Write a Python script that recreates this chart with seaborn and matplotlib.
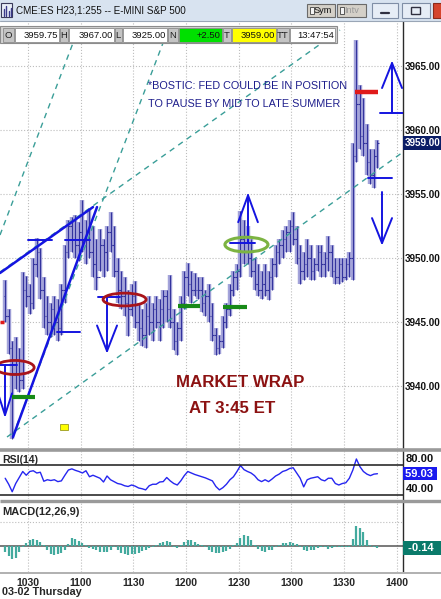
import numpy as np
import pandas as pd
import matplotlib.pyplot as plt
import matplotlib.transforms as mtransforms
from matplotlib.patches import Ellipse, Rectangle
from matplotlib import font_manager
import seaborn as sns

sns.set_theme(style='white')
plt.rcParams['font.family'] = ['Liberation Sans', 'DejaVu Sans']

# ---- data: 2-minute bars, x = minutes after 10:00 ----
bar_start = 17
bar_step = 2

highs = [3948.3, 3946.0, 3943.5, 3943.8, 3943.0, 3948.9, 3948.6, 3948.0, 3950.0, 3951.6,
         3950.8, 3948.5, 3947.0, 3946.5, 3947.0, 3946.8, 3948.0, 3951.0, 3953.0, 3953.2,
         3953.4, 3952.8, 3954.5, 3953.0, 3953.8, 3952.5, 3951.5, 3952.3, 3951.5, 3952.5,
         3953.6, 3952.5, 3950.0, 3949.0, 3948.5, 3947.5, 3948.0, 3948.2, 3946.5, 3946.0,
         3946.5, 3947.0, 3946.5, 3947.0, 3946.8, 3947.5, 3947.5, 3948.7, 3946.0, 3945.0,
         3947.0, 3949.0, 3949.6, 3949.0, 3948.8, 3948.5, 3948.5, 3947.5, 3948.0, 3946.5,
         3944.5, 3944.0, 3945.5, 3946.5, 3948.0, 3949.0, 3949.5, 3953.7, 3953.0, 3952.5,
         3951.5, 3950.0, 3949.5, 3949.0, 3949.5, 3949.0, 3950.0, 3951.0, 3951.5, 3952.2,
         3952.5, 3953.0, 3953.6, 3952.5, 3951.0, 3950.5, 3951.5, 3951.0, 3950.0, 3951.0,
         3951.0, 3950.5, 3951.7, 3951.0, 3950.0, 3950.0, 3950.0, 3950.0, 3950.5, 3959.0,
         3967.0, 3963.5, 3962.5, 3960.5, 3958.5, 3958.5, 3959.2]
lows = [3945.0, 3942.5, 3935.9, 3939.8, 3939.5, 3939.8, 3946.2, 3945.6, 3946.0, 3948.5,
        3946.8, 3944.5, 3944.0, 3943.8, 3944.0, 3943.5, 3944.0, 3946.5, 3950.0, 3950.5,
        3950.0, 3949.8, 3950.5, 3949.5, 3950.0, 3948.5, 3947.5, 3949.0, 3948.5, 3949.0,
        3950.5, 3948.5, 3946.5, 3946.0, 3945.5, 3943.9, 3945.5, 3944.5, 3943.5, 3943.1,
        3943.0, 3944.0, 3943.5, 3944.5, 3943.5, 3944.5, 3945.0, 3944.5, 3942.8, 3942.4,
        3943.5, 3946.0, 3947.0, 3946.5, 3947.0, 3946.8, 3945.8, 3945.5, 3945.0, 3943.5,
        3942.4, 3942.5, 3943.0, 3944.5, 3945.5, 3947.0, 3947.5, 3948.5, 3949.5, 3949.5,
        3948.5, 3947.5, 3947.0, 3946.8, 3947.0, 3946.7, 3947.5, 3948.5, 3949.5, 3950.0,
        3950.5, 3950.5, 3951.0, 3949.5, 3948.0, 3948.3, 3948.5, 3948.3, 3948.3, 3949.0,
        3948.5, 3948.5, 3949.0, 3948.5, 3948.0, 3948.0, 3948.1, 3948.3, 3948.5, 3948.3,
        3957.5, 3958.5, 3958.0, 3956.5, 3955.8, 3955.5, 3957.0]
closes = [3945.5, 3943.0, 3941.0, 3942.0, 3940.5, 3947.5, 3947.0, 3946.5, 3949.5, 3950.5,
          3947.5, 3945.5, 3945.0, 3946.0, 3945.0, 3944.5, 3947.5, 3950.5, 3952.5, 3951.5,
          3951.0, 3952.0, 3951.5, 3952.0, 3950.5, 3949.5, 3948.5, 3951.0, 3950.5, 3952.0,
          3951.0, 3949.0, 3947.5, 3947.0, 3946.5, 3946.0, 3947.0, 3945.0, 3944.5, 3944.0,
          3945.5, 3945.0, 3946.0, 3945.0, 3946.0, 3947.0, 3946.0, 3945.0, 3943.5, 3944.5,
          3946.5, 3948.5, 3948.0, 3947.5, 3947.5, 3947.5, 3946.5, 3947.0, 3945.5, 3944.0,
          3943.0, 3943.5, 3945.0, 3946.0, 3947.5, 3948.5, 3949.0, 3951.5, 3950.5, 3950.0,
          3949.0, 3948.0, 3947.5, 3948.0, 3947.5, 3948.5, 3949.5, 3950.5, 3951.0, 3951.5,
          3952.0, 3952.5, 3951.5, 3950.0, 3949.0, 3949.5, 3950.0, 3949.0, 3949.5, 3950.5,
          3949.5, 3950.0, 3950.5, 3949.0, 3948.5, 3949.5, 3948.5, 3949.5, 3950.0, 3958.0,
          3962.0, 3959.5, 3959.0, 3957.5, 3956.5, 3958.0, 3959.0]
first_open = 3947.0

rsi_values = [53, 45, 35, 46, 54, 62, 57, 62, 63, 60,
              61, 49, 51, 50, 51, 48.5, 49.5, 57, 64, 65.5,
              63.5, 62, 60, 63, 55, 57, 55, 53, 48, 56,
              51, 48.5, 46, 45, 43, 42, 44, 42.5, 40, 39,
              37.5, 43, 45, 45, 48, 48.5, 54, 49.5, 46, 44,
              49.5, 56.5, 62, 60, 58, 56.5, 55, 53.5, 51.5, 49.5,
              42, 37.5, 40.5, 45, 51, 55, 62, 70, 64.5, 62,
              60, 56.5, 51, 48.5, 51, 48.5, 52, 56, 58.5, 62,
              63.5, 66, 67, 60, 53, 41.5, 51, 53, 54, 55,
              51, 49.5, 53, 53, 46, 44, 46, 47, 53, 64,
              78.7, 68.5, 62, 58.5, 56.5, 58.5, 59.03]

macd_hist = [-0.45, -0.7, -0.95, -0.85, -0.45, -0.1, 0.25, 0.4, 0.48, 0.45,
             0.3, 0.05, -0.3, -0.55, -0.62, -0.6, -0.5, -0.25, 0.15, 0.55,
             0.5, 0.35, 0.2, 0.05, -0.15, -0.2, -0.3, -0.4, -0.45, -0.4,
             -0.25, -0.1, -0.3, -0.5, -0.6, -0.65, -0.6, -0.55, -0.5, -0.35,
             -0.25, -0.12, -0.08, 0.05, 0.2, 0.3, 0.38, 0.3, -0.05, -0.15,
             0.1, 0.3, 0.43, 0.4, 0.3, 0.15, 0.05, -0.1, -0.3, -0.4,
             -0.48, -0.52, -0.45, -0.35, -0.2, 0.05, 0.2, 0.6, 0.79, 0.7,
             0.45, 0.1, -0.2, -0.35, -0.4, -0.3, -0.25, -0.1, 0.1, 0.2,
             0.25, 0.26, 0.25, 0.15, -0.1, -0.3, -0.35, -0.3, -0.25, -0.15,
             -0.05, -0.1, -0.2, -0.15, -0.08, -0.1, -0.1, -0.08, -0.05, 0.5,
             1.45, 1.3, 1.0, 0.45, 0.05, -0.1, -0.14]

time_ticks = [30, 60, 90, 120, 150, 180, 210, 240]
time_labels = ['1030', '1100', '1130', '1200', '1230', '1300', '1330', '1400']
price_ticks = [3940, 3945, 3950, 3955, 3960, 3965]
rsi_ticks = [40, 80]
rsi_bands = [70, 30]
last_price = 3959.00
last_rsi = 59.03
last_macd = -0.14
quote_labels = ['O', 'H', 'L', 'N', 'T', 'TT']
quote_values = ['3959.75', '3967.00', '3925.00', '+2.50', '3959.00', '13:47:54']

# drawn studies on the price pane: (minute, price) pairs
teal_lines = [((14.05, 3951.80), (55.63, 3966.80)),
              ((21.46, 3936.17), (106.88, 3966.80)),
              ((18.04, 3936.02), (243.55, 3958.28)),
              ((14.05, 3948.91), (207.68, 3967.81))]
blue_lines = [((14.05, 3948.83), (67.0, 3953.98)),
              ((21.46, 3936.02), (69.3, 3953.98))]
blue_levels = [(30.0, 43.7, 3951.41), (51.1, 65.3, 3951.41), (46.5, 59.6, 3944.22),
               (14.05, 23.7, 3941.64), (69.9, 82.4, 3946.95), (145.0, 159.3, 3951.17),
               (230.5, 243.6, 3961.33), (223.6, 237.3, 3956.25)]
arrows = [(16.9, 3941.64, 3937.73, 4.0, 1.7), (75.0, 3946.95, 3942.73, 5.7, 2.0),
          (155.3, 3951.17, 3954.9, 5.6, 2.1), (237.3, 3961.33, 3965.23, 5.7, 1.95),
          (231.6, 3955.16, 3951.17, 5.7, 1.95)]
red_ellipses = [(22.5, 3941.45, 22.0, 1.1), (85.0, 3946.76, 24.5, 1.0)]
green_ellipses = [(154.4, 3951.05, 24.5, 1.15)]
red_levels = [(216.2, 229.3, 3962.97, 3.2), (14.05, 16.3, 3945.0, 2.5)]
green_levels = [(20.9, 34.0, 3939.14), (115.4, 128.0, 3946.25), (141.0, 154.7, 3946.17)]

bars = pd.DataFrame({
    'minute': bar_start + bar_step * np.arange(len(highs)),
    'high': highs, 'low': lows, 'close': closes,
})
bars['open'] = [first_open] + closes[:-1]
bars['rsi'] = rsi_values
bars['macd'] = macd_hist

W, H = 441, 599
fig = plt.figure(figsize=(W / 100, H / 100), dpi=100, facecolor='white')


def frame(top, bottom):
    return [0, 1 - bottom / H, 403 / W, (bottom - top) / H]


ax = fig.add_axes(frame(22, 448))
ax_rsi = fig.add_axes(frame(451, 499))
ax_macd = fig.add_axes(frame(502, 572))

xlim = (14.05, 243.55)
grid_kw = dict(color='#bdbdbd', lw=0.8, ls=':')
for a in (ax, ax_rsi, ax_macd):
    a.set_facecolor('white')
    for s in ('left', 'top', 'bottom'):
        a.spines[s].set_visible(False)
    a.spines['right'].set_color('#2a2a2a')
    a.spines['right'].set_linewidth(1.0)
    a.set_xlim(*xlim)
    a.set_xticks(time_ticks)
    a.tick_params(length=0)
    a.grid(True, axis='x', **grid_kw)
    a.yaxis.tick_right()

# ---- price pane ----
bar_c = '#34349e'
ax.vlines(bars['minute'], bars['low'], bars['high'], color='#a4a4da', lw=3.2, zorder=2)
ax.vlines(bars['minute'], bars['low'], bars['high'], color=bar_c, lw=0.8, zorder=2.1)
ax.hlines(bars['open'], bars['minute'] - 0.9, bars['minute'], color=bar_c, lw=0.8, zorder=2.1)
ax.hlines(bars['close'], bars['minute'], bars['minute'] + 0.9, color=bar_c, lw=0.8, zorder=2.1)

ax.set_ylim(3935.16, 3968.44)
ax.set_yticks(price_ticks, labels=[f'{p:.2f}' for p in price_ticks],
              fontsize=7.1, fontweight='bold')
ax.tick_params(axis='y', pad=1.2, labelcolor='#111111')
ax.set_xticklabels([])
ax.grid(True, axis='y', **grid_kw)

for (x0, y0), (x1, y1) in teal_lines:
    ax.plot([x0, x1], [y0, y1], color='#3a9e98', lw=1.0, ls=(0, (4, 3.5)), zorder=3)
for (x0, y0), (x1, y1) in blue_lines:
    ax.plot([x0, x1], [y0, y1], color='#1414e0', lw=1.8, zorder=4, solid_capstyle='round')
for x0, x1, y in blue_levels:
    ax.plot([x0, x1], [y, y], color='#1414e0', lw=1.4, zorder=4)
for x, y0, y1, hw, hh in arrows:
    ax.plot([x, x], [y0, y1], color='#1414e0', lw=1.4, zorder=4)
    sgn = 1 if y1 > y0 else -1
    ax.plot([x - hw, x, x + hw], [y1 - sgn * hh, y1, y1 - sgn * hh],
            color='#1414e0', lw=1.4, zorder=4)
for x0, x1, y, lw in red_levels:
    ax.plot([x0, x1], [y, y], color='#e01b1b', lw=lw, zorder=4, solid_capstyle='butt')
for x0, x1, y in green_levels:
    ax.plot([x0, x1], [y, y], color='#178a17', lw=3.0, zorder=4, solid_capstyle='butt')
for cx, cy, w, h in red_ellipses:
    ax.add_patch(Ellipse((cx, cy), w, h, fc='none', ec='#a8141a', lw=2.0, zorder=4))
for cx, cy, w, h in green_ellipses:
    ax.add_patch(Ellipse((cx, cy), w, h, fc='none', ec='#7cb342', lw=2.2, zorder=4))
ax.add_patch(Rectangle((48.2, 3936.55), 4.5, 0.47, fc='#ffff00', ec='#9a9a20', lw=0.6, zorder=4))

fnames = {f.name for f in font_manager.fontManager.ttflist}
if 'Liberation Sans Narrow' in fnames:
    note_font, note_size = ['Liberation Sans Narrow', 'DejaVu Sans'], 9.4
else:
    note_font, note_size = ['Liberation Sans', 'DejaVu Sans'], 7.8
ax.text(98.3, 3963.45, '*BOSTIC: FED COULD BE IN POSITION', family=note_font,
        fontsize=note_size, color='#1e1e8c', va='center', ha='left', zorder=5)
ax.text(98.3, 3962.05, 'TO PAUSE BY MID TO LATE SUMMER', family=note_font,
        fontsize=note_size, color='#1e1e8c', va='center', ha='left', zorder=5)
ax.text(150.7, 3940.3, 'MARKET WRAP', fontsize=12.2, fontweight='bold',
        color='#8c1212', ha='center', va='center', zorder=5)
ax.text(146.2, 3938.25, 'AT 3:45 ET', fontsize=12.2, fontweight='bold',
        color='#8c1212', ha='center', va='center', zorder=5)

right_tr = mtransforms.blended_transform_factory(ax.transAxes, ax.transData)
ax.text(1.004, last_price, f'{last_price:.2f}', transform=right_tr, fontsize=7.1,
        fontweight='bold', color='white', va='center', ha='left', clip_on=False,
        bbox=dict(boxstyle='square,pad=0.2', fc='#0b1d66', ec='none'))

# ---- RSI pane ----
sns.lineplot(data=bars, x='minute', y='rsi', ax=ax_rsi, color='#2626f0', lw=1.0)
ax_rsi.set_xlabel('')
ax_rsi.set_ylabel('')
ax_rsi.set_xlim(*xlim)
ax_rsi.set_ylim(25.33, 89.33)
ax_rsi.set_yticks(rsi_ticks, labels=[f'{v:.2f}' for v in rsi_ticks],
                  fontsize=8, fontweight='bold')
ax_rsi.tick_params(axis='y', pad=2, labelcolor='#111111')
ax_rsi.set_xticklabels([])
for lvl in rsi_bands:
    ax_rsi.axhline(lvl, color='#1a1a1a', lw=1.1)
ax_rsi.text(0.005, 0.81, 'RSI(14)', transform=ax_rsi.transAxes, fontsize=7.6,
            fontweight='bold', va='center', ha='left')
rsi_tr = mtransforms.blended_transform_factory(ax_rsi.transAxes, ax_rsi.transData)
ax_rsi.text(1.004, last_rsi, f'{last_rsi:.2f} ', transform=rsi_tr, fontsize=8,
            fontweight='bold', color='white', va='center', ha='left', clip_on=False,
            bbox=dict(boxstyle='square,pad=0.15', fc='#1a1aee', ec='none'))

# ---- MACD pane ----
ax_macd.vlines(bars['minute'], 0, bars['macd'], color='#43aa9e', lw=1.6, zorder=2)
ax_macd.axhline(0, color='#555555', lw=1.1, zorder=1.5)
ax_macd.axhline(1.7, **grid_kw)
ax_macd.set_ylim(-1.857, 3.143)
ax_macd.set_yticks([])
ax_macd.set_xticks(time_ticks, labels=time_labels, fontsize=7.5, fontweight='bold')
ax_macd.tick_params(axis='x', pad=4)
ax_macd.text(0.005, 0.857, 'MACD(12,26,9)', transform=ax_macd.transAxes, fontsize=7.9,
             fontweight='bold', va='center', ha='left')
macd_tr = mtransforms.blended_transform_factory(ax_macd.transAxes, ax_macd.transData)
ax_macd.text(1.004, last_macd, f' {last_macd:.2f}  ', transform=macd_tr, fontsize=8,
             fontweight='bold', color='white', va='center', ha='left', clip_on=False,
             bbox=dict(boxstyle='square,pad=0.15', fc='#0a7a6a', ec='none'))

# ---- window chrome (pixel overlay) ----
over = fig.add_axes([0, 0, 1, 1], zorder=10)
over.set_xlim(0, W)
over.set_ylim(H, 0)
over.axis('off')


def box(x0, y0, x1, y1, fc, ec='none', lw=0.8):
    over.add_patch(Rectangle((x0, y0), x1 - x0, y1 - y0, fc=fc, ec=ec, lw=lw))


for y, c, lw in [(449.8, '#9a9a9a', 2.6), (500.6, '#9a9a9a', 2.4), (572.6, '#b0b0b0', 1.4)]:
    over.plot([0, W], [y, y], color=c, lw=lw, solid_capstyle='butt')

box(0, 0, W, 20.5, '#d8e3f0')
over.plot([0, W], [20.5, 20.5], color='#9aa6b6', lw=0.8)
box(1, 3, 12, 17, '#e8eef8', '#3a3a5a', 0.8)
for xi, yt in [(3.5, 9), (6, 6), (8.5, 11), (10.5, 8)]:
    over.plot([xi, xi], [yt, 15.5], color='#3a3a8a', lw=1.0)
over.text(16, 10.8, 'CME:ES H23,1:255 -- E-MINI S&P 500', fontsize=7.1,
          va='center', ha='left', color='#111111')
box(307, 4, 335, 17, '#d4d0c8', '#6a6a6a', 0.8)
box(309.5, 7, 313.5, 14, '#f4f4f4', '#404040', 0.6)
over.text(314, 10.8, 'Sym', fontsize=6.6, va='center', ha='left', color='#111111')
box(337, 4, 366, 17, '#d4d0c8', '#6a6a6a', 0.8)
box(339.5, 7, 343.5, 14, '#f4f4f4', '#404040', 0.6)
over.text(344, 10.8, 'Intv', fontsize=6.6, va='center', ha='left', color='#9a9a9a')
box(372, 2.5, 398, 18, '#e6edf6', '#7f8ea6', 0.8)
over.plot([381, 389], [12.5, 12.5], color='#303040', lw=1.6)
box(402, 2.5, 430, 18, '#e6edf6', '#7f8ea6', 0.8)
box(411, 7, 420, 14, 'none', '#303040', 1.0)
box(433, 2.5, W + 2, 18, '#d5442c', '#8a2a1a', 0.8)

box(0, 26, 337, 43, '#d2d2d2', '#8c8c8c', 0.8)
label_cells = [(3, 14), (60, 67.5), (115, 121.5), (168, 177.5), (223, 230.5), (277, 288.5)]
value_cells = [(15, 59), (68.5, 114), (122.5, 167), (178.5, 222), (231.5, 276), (289.5, 335)]
value_fc = ['white', 'white', 'white', '#00e000', '#ffff00', 'white']
for lab, val, (l0, l1), (v0, v1), fc in zip(quote_labels, quote_values,
                                            label_cells, value_cells, value_fc):
    box(l0, 28, l1, 41.5, '#c4c4c4', '#8c8c8c', 0.6)
    over.text((l0 + l1) / 2, 35, lab, fontsize=6.8, ha='center', va='center', color='#222222')
    box(v0, 28, v1, 41.5, fc, '#8c8c8c', 0.6)
    over.text(v1 - 1.2, 35, val, fontsize=6.8, ha='right', va='center', color='#111111')

over.text(2, 592, '03-02 Thursday', fontsize=7.8, fontweight='bold', va='center', ha='left')

fig.savefig('out.png', dpi=100, facecolor='white')
